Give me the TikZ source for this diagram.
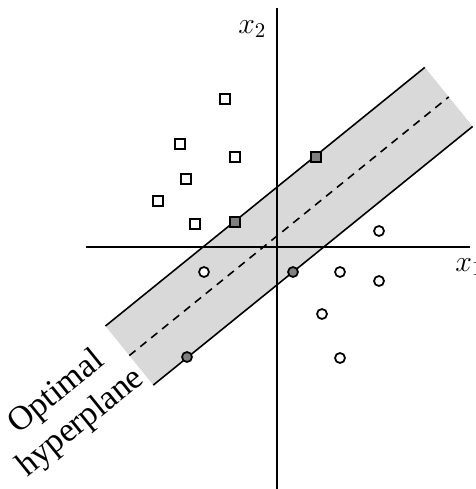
\documentclass[tikz,border=0pt]{standalone}
\usepackage{fix-cm}
\usepackage{amsmath}
\usepackage{fontspec}
\setmainfont{Liberation Serif}
\usepackage{tikz}
\usetikzlibrary{positioning}

\begin{document}
\begin{tikzpicture}[x=0.2mm, y=0.2mm,
    sqr/.style={draw, rectangle, minimum size=2mm, inner sep=0pt, line width=1.1pt, fill=white},
    sqrsv/.style={sqr, fill=black!50},
    circ/.style={draw, circle, minimum size=2mm, inner sep=0pt, line width=1pt, fill=white},
    circsv/.style={circ, fill=black!50},
    axis/.style={line width=1.7pt},
    margin/.style={line width=0.9pt},
    lbl/.style={font=\fontsize{17}{20}\selectfont, inner sep=0pt},
]
  \useasboundingbox (-277,-242) rectangle (199,247);

  % margin band and separating line
  \begin{scope}[shift={(0,11)}, rotate=39]
    \fill[black!15] (-190,-38) rectangle (221,38);
    \coordinate (ul) at (-190,38);  \coordinate (ur) at (221,38);
    \coordinate (ll) at (-190,-38); \coordinate (lr) at (221,-38);
    \coordinate (ml) at (-190,0);   \coordinate (mr) at (221,0);
  \end{scope}
  \draw[margin] (ul) -- (ur);
  \draw[margin] (ll) -- (lr);
  \draw[margin, dash pattern=on 4.5pt off 3.5pt] (ml) -- (mr);

  % axes
  \coordinate (xa) at (-191,0);
  \coordinate (xb) at (193,0);
  \coordinate (ya) at (0,-242);
  \coordinate (yb) at (0,239);
  \draw[axis] (xa) -- (xb);
  \draw[axis] (ya) -- (yb);
  \node[lbl, anchor=west] (xone) at (178,-20) {$x_1$};
  \node[lbl, anchor=west] (xtwo) at (-39,218) {$x_2$};

  % class one
  \node[sqr] (s1) at (-52,148) {};
  \node[sqr] (s2) at (-97,103) {};
  \node[sqr] (s3) at (-42,90) {};
  \node[sqr] (s4) at (-91,68) {};
  \node[sqr] (s5) at (-119,46) {};
  \node[sqr] (s6) at (-82,23) {};
  \node[sqrsv] (s7) at (39,90) {};
  \node[sqrsv] (s8) at (-42,25) {};

  % class two
  \node[circ] (c1) at (102,16) {};
  \node[circ] (c2) at (-73,-25) {};
  \node[circ] (c3) at (63,-25) {};
  \node[circ] (c4) at (102,-34) {};
  \node[circ] (c5) at (45,-67) {};
  \node[circ] (c6) at (63,-111) {};
  \node[circsv] (c7) at (16,-25) {};
  \node[circsv] (c8) at (-90,-110) {};

  \node[rotate=39, align=center, font=\fontsize{19.5}{22}\selectfont] (hyp) at (-208,-161) {Optimal\\hyperplane};
\end{tikzpicture}
\end{document}
